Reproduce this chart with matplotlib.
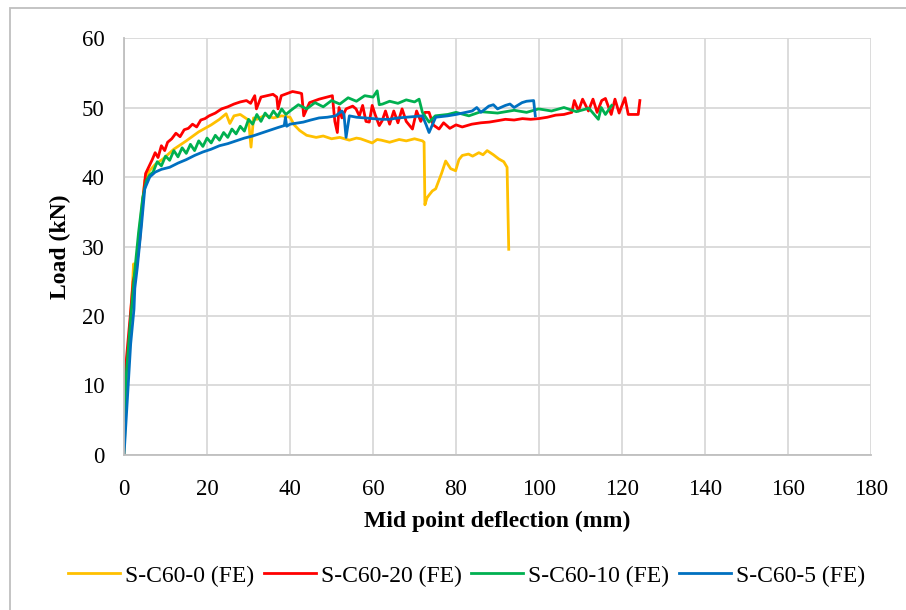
import matplotlib

matplotlib.use("Agg")
import matplotlib.pyplot as plt
from matplotlib.patches import Rectangle

plt.rcParams["font.family"] = ["Liberation Serif", "DejaVu Serif"]

# S-C60-0 (FE)
x0 = [0, 0.5, 1.2, 2.0, 2.3, 2.6, 3.2, 4.0, 5.0, 6.0, 7.5, 9.4, 12, 15, 18, 21, 23,
      24.6, 25.5, 26.5, 28, 30, 30.6, 31.2, 32, 34, 36, 38, 40, 41, 42.3, 44, 46.3,
      48, 50, 52, 54.3, 56, 57, 59.8, 61, 62, 64, 66.3, 68, 70, 71.9, 72.3, 72.5, 73,
      73.5, 74.3, 75.1, 76.5, 77.5, 78.7, 79.9, 80.7, 81.5, 83, 84, 85.5, 86.5, 87.5,
      89, 90.3, 91.5, 92.3, 92.7]
y0 = [0, 8, 16, 24, 27.5, 26, 29, 34, 39.5, 40.8, 41.8, 42.6, 44, 45.2, 46.5, 47.5, 48.3,
      49.1, 47.7, 48.8, 49, 48.2, 44.3, 48.5, 48.3, 48.9, 48.5, 48.8, 48.6, 47.5, 46.7, 46.0, 45.7,
      45.9, 45.5, 45.7, 45.3, 45.6, 45.5, 44.9, 45.4, 45.3, 45.0, 45.4, 45.2, 45.5, 45.2, 45.0, 36.0, 37.0,
      37.4, 38.0, 38.3, 40.5, 42.3, 41.2, 40.9, 42.5, 43.1, 43.3, 43.0, 43.5, 43.2, 43.8,
      43.2, 42.6, 42.2, 41.4, 29.6]

# S-C60-20 (FE)
x20 = [0, 0.6, 1.5, 2.2, 3.0, 3.8, 4.6, 5.2, 6.0, 6.8, 7.5, 8.2, 9.0, 9.8, 10.5, 11.5,
       12.5, 13.5, 14.5, 15.5, 16.5, 17.5, 18.5, 19.5, 20.5, 22, 23.5, 25, 26.5, 28, 29.5,
       30.5, 31.5, 31.9, 33, 35.9, 36.8, 37.1, 37.9, 40.6, 42.3, 42.8, 43.3, 44.7, 47, 50.2,
       50.8, 51.4, 51.8, 52.5, 53.5, 55.1, 55.9, 56.7, 57.5, 58.3, 59.1, 59.8, 60.5, 61.5,
       62.2, 63, 64, 65, 66, 67, 68, 69.5, 70.5, 71.5, 72.5, 73.5, 74.5, 75.9, 77, 78.5,
       80, 81.5, 83.8, 86, 88, 90, 91.9, 94, 96, 98, 99.9, 102, 104, 106, 107.9, 108.5,
       109.5, 110.5, 111.9, 113, 114, 115.1, 116, 117.4, 118.3, 119.3, 120.7, 121.5,
       123.9, 124.3]
y20 = [8, 14, 20, 25, 27, 31, 37, 40.5, 41.5, 42.5, 43.5, 42.8, 44.5, 43.8, 45, 45.5,
       46.3, 45.8, 46.8, 47, 47.6, 47.2, 48.2, 48.4, 48.8, 49.2, 49.8, 50.1, 50.5, 50.8, 51,
       50.6, 51.7, 49.8, 51.5, 51.9, 51.5, 49.8, 51.7, 52.3, 52.1, 52.0, 48.8, 50.7, 51.2, 51.7,
       48, 46.4, 50, 48.5, 49.8, 50.2, 49.8, 48.8, 50.3, 48.0, 47.9, 50.3, 49, 47.4,
       48.1, 49.5, 47.6, 49.5, 47.8, 49.8, 48, 46.9, 49.5, 48, 49.3, 49.3, 47.5, 46.9, 47.8, 47.0,
       47.5, 47.2, 47.6, 47.8, 47.9, 48.1, 48.3, 48.2, 48.4, 48.3, 48.4, 48.6, 48.9, 49.0, 49.3, 51.0,
       49.5, 51.2, 49.5, 51.2, 49.3, 51.0, 51.3, 49.0, 51.2, 49.2, 51.4, 49.0,
       49.0, 51.0]

# S-C60-10 (FE)
x10 = [0, 0.6, 1.5, 2.5, 3.5, 4.5, 5.4, 6.2, 7.0, 8, 9, 10, 11, 12, 13, 14, 15, 16, 17,
       18, 19, 20, 21, 22, 23, 24, 25, 26, 27, 28, 29, 30, 31, 32, 33, 34, 35, 36, 37, 38,
       39, 40, 42, 44, 46, 48, 50, 52, 54, 56, 58, 60, 61, 61.5, 62.3, 64, 66, 68, 70,
       71.1, 71.9, 73.5, 75, 78, 80, 83.1, 86, 90, 94, 97, 99.9, 103, 106, 109, 112,
       114.3, 115, 116, 117.5]
y10 = [5, 12, 19, 26, 32, 37, 39.5, 40.3, 40.7, 42.2, 41.6, 43.0, 42.4, 43.8, 42.9, 44.2, 43.4,
       44.7, 43.8, 45.2, 44.4, 45.6, 44.9, 46.0, 45.3, 46.4, 45.7, 46.9, 46.2, 47.3, 46.6,
       48.3, 47.6, 49.0, 48.0, 49.2, 48.5, 49.5, 48.7, 49.8, 49.0, 49.5, 50.4, 49.8, 50.7, 50.1,
       51.0, 50.5, 51.4, 50.9, 51.7, 51.5, 52.4, 50.4, 50.5, 50.9, 50.6, 51.1, 50.8,
       51.2, 49.3, 47.9, 48.8, 49.0, 49.3, 48.8, 49.4, 49.2, 49.6, 49.3, 49.8, 49.5, 50.0, 49.4, 49.9,
       48.3, 50.0, 49.0, 50.3]

# S-C60-5 (FE)
x5 = [0, 0.8, 1.6, 2.4, 2.6, 3.2, 4.2, 5.0, 6.2, 7.5, 9, 11, 13, 15, 17, 19, 21, 23, 25,
      27, 29, 31, 33, 35, 37, 38.6, 38.9, 39.2, 40, 43.2, 45, 47, 49, 51, 52.5, 53.0, 53.5,
      54.3, 56, 58, 60, 62, 63.9, 66, 68, 70, 71.9, 72.8, 73.5, 74.3, 75.1, 78, 80, 83.9,
      85, 86, 87.9, 89, 90, 91.9, 93, 94, 95.9, 97, 98.7, 99.1]
y5 = [0, 8, 16, 21, 24, 27, 33, 38.3, 40, 40.7, 41.1, 41.4, 42.0, 42.5, 43.1, 43.6, 44.0,
      44.5, 44.8, 45.2, 45.6, 45.9, 46.3, 46.7, 47.1, 47.4, 48.6, 47.3, 47.6, 47.9, 48.2, 48.5,
      48.6, 48.8, 49.5, 49.0, 45.7, 48.8, 48.6, 48.5, 48.4, 48.3, 48.3, 48.5, 48.6, 48.7, 48.8,
      47.5, 46.4, 47.5, 48.6, 48.8, 49.0, 49.5, 50.0, 49.3, 50.2, 50.4, 49.8, 50.3, 50.5, 50.0,
      50.7, 50.9, 51.0, 48.8]

series = [
    ("S-C60-0 (FE)", x0, y0, "#FFC000"),
    ("S-C60-20 (FE)", x20, y20, "#FF0000"),
    ("S-C60-10 (FE)", x10, y10, "#00B050"),
    ("S-C60-5 (FE)", x5, y5, "#0070C0"),
]

fig = plt.figure(figsize=(9.06, 6.10), dpi=100)
ax = fig.add_axes([0.1369, 0.2541, 0.8245, 0.6836])

for name, xs, ys, col in series:
    ax.plot(xs, ys, color=col, lw=2.0, label=name)

ax.set_xlim(0, 180)
ax.set_ylim(0, 60)
ax.set_xticks(range(0, 181, 20))
ax.set_yticks(range(0, 61, 10))
ax.grid(True, color="#d9d9d9", lw=1.3)
ax.set_axisbelow(True)
for s in ["top", "right"]:
    ax.spines[s].set_visible(False)
for s in ["left", "bottom"]:
    ax.spines[s].set_color("#bfbfbf")
    ax.spines[s].set_linewidth(1.3)
ax.tick_params(length=0, labelsize=16.5, colors="black")
ax.tick_params(axis="x", pad=17)
ax.tick_params(axis="y", pad=14)
ax.set_xlabel("Mid point deflection (mm)", fontsize=17, fontweight="bold", labelpad=8)
ax.set_ylabel("Load (kN)", fontsize=17, fontweight="bold", labelpad=8)

fig.legend(loc="center", bbox_to_anchor=(0.515, 0.056), ncol=4, frameon=False,
           fontsize=17, handlelength=2.2, columnspacing=0.42, handletextpad=0.2)

fig.patches.append(Rectangle((10 / 906, -0.1), 1.2, 1.1 - 8 / 610, transform=fig.transFigure,
                             fill=False, edgecolor="#bfbfbf", lw=1.3))

fig.savefig("out.png", dpi=100)
